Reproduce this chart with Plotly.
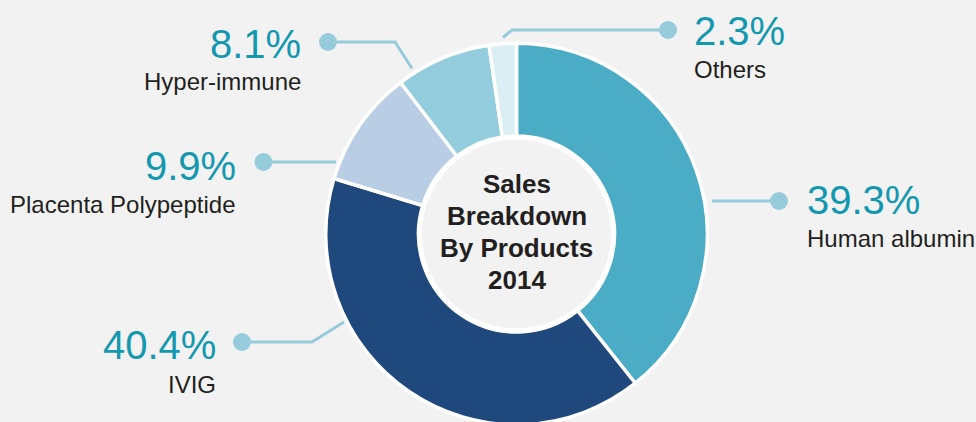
import plotly.graph_objects as go

# ---- data ----
labels = ["Human albumin", "IVIG", "Placenta Polypeptide", "Hyper-immune", "Others"]
values = [39.3, 40.4, 9.9, 8.1, 2.3]
colors = ["#4bacc6", "#1f497d", "#b9cde5", "#93cddd", "#dbeef4"]
center_title = ["Sales", "Breakdown", "By Products", "2014"]

# ---- layout helpers (pixel -> paper) ----
W, H = 976, 440   # a little taller than the 422 view so the ring can run off the bottom edge
BG = "#f2f2f2"
TEAL = "#1498b0"
LEADER = "#96cbdb"
DARK = "#231f20"
FONT = "Liberation Sans, Arial, sans-serif"


def px(x):
    return x / W


def py(y):
    return 1 - y / H


cx, cy = 516.5, 234.0
R = 190.75
hole_r = 98.0

# label placement (decoration geometry, in pixels)
label_geom = {
    "Human albumin": dict(anchor="left", tx=805, pct_y=200, name_y=238.5,
                          dot=(779, 201), path=[(779, 201), (712, 201)]),
    "IVIG": dict(anchor="right", tx=218, pct_y=345, name_y=384,
                 dot=(242, 342), path=[(242, 342), (312, 342), (344, 322)]),
    "Placenta Polypeptide": dict(anchor="right", tx=238, pct_y=165.5, name_y=204,
                                 dot=(263.5, 162), path=[(263.5, 162), (336, 162)]),
    "Hyper-immune": dict(anchor="right", tx=303, pct_y=44.5, name_y=81.5,
                         dot=(328, 42), path=[(328, 42), (395, 42), (412, 68.5)]),
    "Others": dict(anchor="left", tx=692, pct_y=31, name_y=70,
                   dot=(668, 30), path=[(668, 30), (512, 30), (503, 37.5)]),
}

fig = go.Figure()
fig.add_trace(go.Pie(
    labels=labels,
    values=values,
    marker=dict(colors=colors, line=dict(color="white", width=3.5)),
    sort=False,
    direction="clockwise",
    rotation=0,
    hole=hole_r / R,
    textinfo="none",
    hoverinfo="label+percent",
    showlegend=False,
    domain=dict(x=[px(cx - R), px(cx + R)], y=[py(cy + R), py(cy - R)]),
))

shapes = []
annotations = []

for lab, val in zip(labels, values):
    g = label_geom[lab]
    pts = g["path"]
    path = "M " + " L ".join(f"{px(x):.5f},{py(y):.5f}" for x, y in pts)
    shapes.append(dict(type="path", xref="paper", yref="paper", path=path,
                       line=dict(color=LEADER, width=3), layer="below"))
    dx, dy = g["dot"]
    r = 9
    shapes.append(dict(type="circle", xref="paper", yref="paper",
                       x0=px(dx - r), x1=px(dx + r), y0=py(dy + r), y1=py(dy - r),
                       fillcolor=LEADER, line=dict(width=0), layer="above"))
    annotations.append(dict(
        x=px(g["tx"]), y=py(g["pct_y"]), xref="paper", yref="paper",
        text=f"{val:.1f}%", showarrow=False, xanchor=g["anchor"], yanchor="middle",
        font=dict(family=FONT, size=40, color=TEAL),
    ))
    annotations.append(dict(
        x=px(g["tx"]), y=py(g["name_y"]), xref="paper", yref="paper",
        text=lab, showarrow=False, xanchor=g["anchor"], yanchor="middle",
        font=dict(family=FONT, size=24, color=DARK),
    ))

# centre disc
cr = 96.5
shapes.append(dict(type="circle", xref="paper", yref="paper",
                   x0=px(cx - cr), x1=px(cx + cr), y0=py(cy + cr), y1=py(cy - cr),
                   fillcolor=BG, line=dict(color="white", width=4), layer="above"))

line_y = [184, 216, 248, 280]
for t, ly in zip(center_title, line_y):
    annotations.append(dict(
        x=px(cx), y=py(ly), xref="paper", yref="paper",
        text=f"<b>{t}</b>", showarrow=False, xanchor="center", yanchor="middle",
        font=dict(family=FONT, size=26, color=DARK),
    ))

fig.update_layout(
    width=W, height=H,
    margin=dict(l=0, r=0, t=0, b=0),
    paper_bgcolor=BG, plot_bgcolor=BG,
    shapes=shapes, annotations=annotations,
    showlegend=False,
)

fig.write_html(
    "out.html",
    config={"displayModeBar": False},
    post_script="document.body.style.margin='0';document.body.style.background='#f2f2f2';",
)
